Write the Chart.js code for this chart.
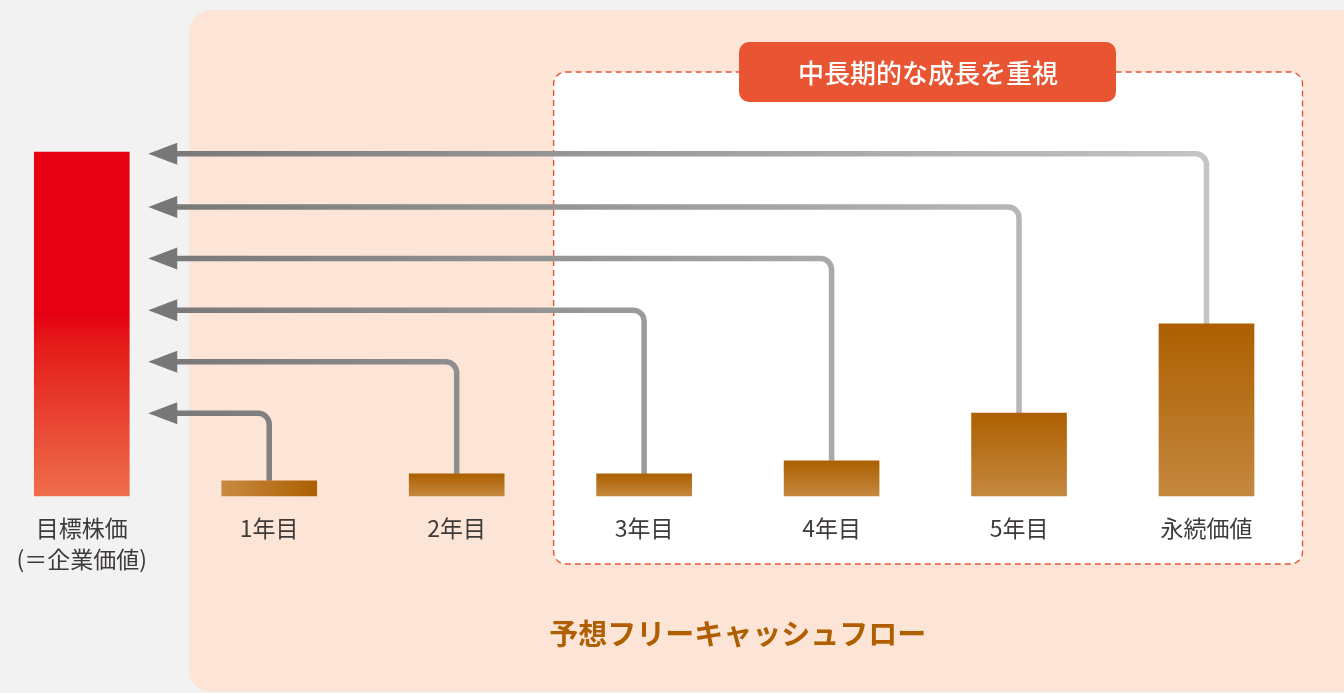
<!DOCTYPE html>
<html lang="ja">
<head>
<meta charset="utf-8">
<title>目標株価と予想フリーキャッシュフロー</title>
<script src="https://cdn.jsdelivr.net/npm/chart.js@4.4.1/dist/chart.umd.min.js"></script>
<style>
  html, body { margin: 0; padding: 0; background: #f2f2f2; }
  #wrap { position: relative; width: 1344px; height: 693px; }
</style>
</head>
<body>
<div id="wrap"><canvas id="fcf-chart"></canvas></div>
<script>
// Data
const categories = [['目標株価', '(＝企業価値)'], '1年目', '2年目', '3年目', '4年目', '5年目', '永続価値'];
const values = [100, 4.4, 6.4, 6.4, 10.2, 24.1, 50];
// height (in value units) where each year's arrow turns toward the target bar
const arrowLevels = [24, 39, 54, 69, 84, 99.5];
const boxLabel = '中長期的な成長を重視';
const bottomTitle = '予想フリーキャッシュフロー';

const FONT = "'Noto Sans CJK JP', 'Noto Sans', sans-serif";
const BAR_W = 95;

// Bar colours (gradients built from the bar bounds)
function barColor(ctx) {
  const chart = ctx.chart;
  const { x, y } = chart.scales;
  if (!x || !y || !chart.chartArea) return '#b26a10';
  const i = ctx.dataIndex;
  const c = chart.ctx;
  const cx = x.getPixelForValue(i);
  const top = y.getPixelForValue(values[i]);
  const bottom = y.getPixelForValue(0);
  let g;
  if (i === 0) {
    g = c.createLinearGradient(0, top, 0, bottom);
    g.addColorStop(0, '#e60012');
    g.addColorStop(0.47, '#e60012');
    g.addColorStop(0.56, '#e31b19');
    g.addColorStop(1, '#ee6e4c');
  } else if (i === 1) {
    g = c.createLinearGradient(cx - BAR_W / 2, 0, cx + BAR_W / 2, 0);
    g.addColorStop(0, '#c88a42');
    g.addColorStop(1, '#ad5f00');
  } else {
    g = c.createLinearGradient(0, top, 0, bottom);
    g.addColorStop(0, '#ad5f00');
    g.addColorStop(1, '#c4883f');
  }
  return g;
}

function roundRect(c, x, y, w, h, r) {
  c.beginPath();
  c.moveTo(x + r, y);
  c.lineTo(x + w - r, y);
  c.arcTo(x + w, y, x + w, y + r, r);
  c.lineTo(x + w, y + h - r);
  c.arcTo(x + w, y + h, x + w - r, y + h, r);
  c.lineTo(x + r, y + h);
  c.arcTo(x, y + h, x, y + h - r, r);
  c.lineTo(x, y + r);
  c.arcTo(x, y, x + r, y, r);
  c.closePath();
}

// Background panels, dashed box and captions
const backdrop = {
  id: 'backdrop',
  beforeDraw(chart) {
    const c = chart.ctx;
    const { x } = chart.scales;
    c.save();
    c.fillStyle = '#f2f2f2';
    c.fillRect(0, 0, chart.width, chart.height);

    // peach panel
    c.fillStyle = '#fce4d7';
    roundRect(c, 189, 10, 1200, 682, 22);
    c.fill();

    // dashed white box around years 3..perpetuity
    const left = x.getPixelForValue(3) - 90.5;
    const right = x.getPixelForValue(6) + 96;
    roundRect(c, left, 72, right - left, 492, 12);
    c.fillStyle = '#ffffff';
    c.fill();
    c.setLineDash([6, 4]);
    c.lineWidth = 1.4;
    c.strokeStyle = '#ea5532';
    c.stroke();
    c.setLineDash([]);

    // red caption tab
    c.fillStyle = '#e95532';
    roundRect(c, 739, 42, 377, 60, 10);
    c.fill();
    c.fillStyle = '#ffffff';
    c.font = '500 26px ' + FONT;
    c.textAlign = 'center';
    c.textBaseline = 'middle';
    c.fillText(boxLabel, 928, 73);

    // bottom title, centred under the forecast bars
    const mid = (x.getPixelForValue(1) + x.getPixelForValue(6)) / 2;
    c.fillStyle = '#b05f00';
    c.font = 'bold 29px ' + FONT;
    c.fillText(bottomTitle, mid, 634);
    c.restore();
  }
};

// Arrows from each forecast bar to the target bar
const arrows = {
  id: 'arrows',
  beforeDatasetsDraw(chart) {
    const c = chart.ctx;
    const { x, y } = chart.scales;
    const targetRight = x.getPixelForValue(0) + BAR_W / 2;
    const tipX = targetRight + 19;
    const baseX = targetRight + 48;
    const r = 11;
    const grad = c.createLinearGradient(150, 0, x.getPixelForValue(6), 0);
    grad.addColorStop(0, '#777777');
    grad.addColorStop(1, '#c4c4c4');
    c.save();
    c.lineWidth = 5.5;
    c.strokeStyle = grad;
    c.lineJoin = 'round';
    for (let i = 1; i < values.length; i++) {
      const cx = x.getPixelForValue(i);
      const top = y.getPixelForValue(values[i]);
      const ly = y.getPixelForValue(arrowLevels[i - 1]);
      c.beginPath();
      c.moveTo(cx, top);
      c.lineTo(cx, ly + r);
      c.arcTo(cx, ly, cx - r, ly, r);
      c.lineTo(baseX - 2, ly);
      c.stroke();

      c.fillStyle = '#777777';
      c.beginPath();
      c.moveTo(tipX, ly);
      c.lineTo(baseX, ly - 11);
      c.lineTo(baseX, ly + 11);
      c.closePath();
      c.fill();
    }
    c.restore();
  }
};

const chartEl = document.getElementById('fcf-chart');
chartEl.width = 1344;
chartEl.height = 693;

new Chart(chartEl, {
  type: 'bar',
  data: {
    labels: categories,
    datasets: [{
      data: values,
      backgroundColor: barColor,
      borderWidth: 0,
      barThickness: BAR_W,
      clip: false
    }]
  },
  options: {
    responsive: false,
    animation: false,
    layout: {
      padding: { top: 152, bottom: 102, left: 80.5, right: 137.5 }
    },
    plugins: {
      legend: { display: false },
      tooltip: { enabled: false }
    },
    scales: {
      x: {
        offset: false,
        grid: { display: false, drawTicks: false },
        border: { display: false },
        ticks: {
          color: '#3e3a39',
          padding: 16.5,
          maxRotation: 0,
          autoSkip: false,
          font: { family: FONT, size: 23, lineHeight: 1.35 }
        }
      },
      y: {
        display: false,
        min: 0,
        max: 100
      }
    }
  },
  plugins: [backdrop, arrows]
});
</script>
</body>
</html>
